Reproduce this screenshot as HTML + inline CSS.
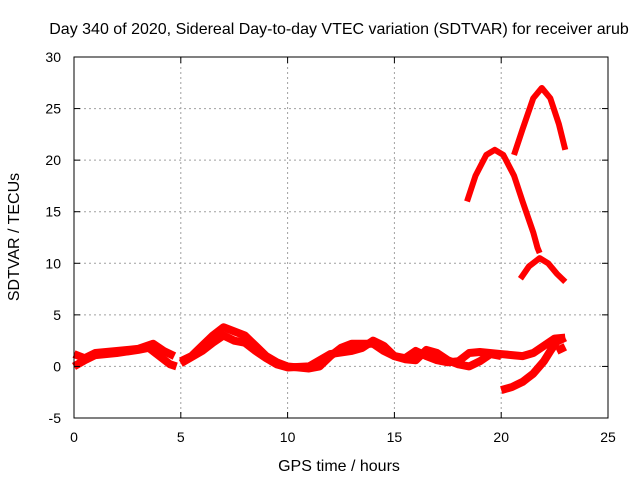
<!DOCTYPE html>
<html><head><meta charset="utf-8"><style>
body{margin:0;background:#fff}
svg text{font-family:"Liberation Sans",sans-serif;font-size:14px;fill:#000}
svg text.big{font-size:16px}
</style></head><body>
<svg id="chart" width="640" height="480">
<text class="big" x="339" y="34" text-anchor="middle">Day 340 of 2020, Sidereal Day-to-day VTEC variation (SDTVAR) for receiver arub</text>
<text class="big" x="339" y="471" text-anchor="middle">GPS time / hours</text>
<text class="big" transform="translate(19,237) rotate(-90)" text-anchor="middle">SDTVAR / TECUs</text>
<g id="grid"></g><g id="marks"></g><g id="axes"></g>
</svg>
<script>
const xTicks=[0,5,10,15,20,25];
const yTicks=[-5,0,5,10,15,20,25,30];
const s1=[[0,1.2],[0.5,0.8],[1,1.3],[2,1.5],[3,1.7],[3.7,2.2],[4.2,1.5],[4.7,1.0]];
const s2=[[0,0],[0.5,0.6],[1,1.1],[2,1.3],[3,1.6],[3.5,1.8],[4,1.0],[4.5,0.2],[4.8,0]];
const s3=[[5,0.5],[5.5,1.0],[6,2],[6.5,3],[7,3.8],[7.5,3.4],[8,3],[8.5,2],[9,1],[9.5,0.4],[10,0],[11,-0.2],[11.5,0],[12,1],[12.5,1.8],[13,2.2],[13.5,2.2],[14,2.2],[14.5,1.5],[15,1],[15.5,0.8],[16,1.5],[16.5,1.0],[17,0.6],[17.5,0.4],[18,0.5],[18.5,1.3],[19,1.4],[20,1.2],[20.5,1.1],[21,1.0],[21.5,1.3],[22,2.0],[22.5,2.7],[23,2.8]];
const s4=[[5,0.3],[6,1.5],[6.5,2.3],[7,3],[7.5,2.5],[8,2.3],[8.5,1.5],[9,0.8],[9.5,0.2],[10,-0.1],[11,0],[12,1.2],[13,1.5],[13.5,1.8],[14,2.5],[14.5,2],[15,1],[15.5,0.7],[16,0.6],[16.5,1.6],[17,1.3],[17.5,0.6],[18,0.2],[18.5,0],[19,0.5],[19.5,1.2],[20,1.0]];
const s5=[[20,-2.3],[20.5,-2],[21,-1.5],[21.5,-0.7],[22,0.5],[22.3,1.5],[22.6,2.4],[23,2.8]];
const s6=[[22.6,1.5],[23,1.9]];
const s7=[[18.4,16],[18.8,18.5],[19.3,20.5],[19.7,21],[20.1,20.5],[20.6,18.5],[21,16],[21.5,13],[21.7,11.5],[21.8,11]];
const s8=[[20.6,20.5],[21,23],[21.5,26],[21.9,27],[22.3,26],[22.7,23.5],[23,21]];
const s9=[[20.9,8.5],[21.3,9.7],[21.8,10.5],[22.2,10],[22.6,9],[23,8.2]];
const series=[s1,s2,s3,s4,s5,s6,s7,s8,s9];
const X0=74,X1=608,Y0=418,Y1=57;
const xs=v=>X0+(v-0)/25*(X1-X0);
const ys=v=>Y0-(v+5)/35*(Y0-Y1);
const NS="http://www.w3.org/2000/svg";
function mk(t,a,p){const e=document.createElementNS(NS,t);for(const k in a)e.setAttribute(k,a[k]);p.appendChild(e);return e;}
const grid=document.getElementById('grid'),axes=document.getElementById('axes'),marks=document.getElementById('marks');
xTicks.forEach(t=>{const x=xs(t);
 if(t>0&&t<25){const g=mk('line',{x1:x,x2:x,y1:Y1,y2:Y0,stroke:'#a0a0a0','stroke-dasharray':'2,3'},grid);
 
 }
 mk('line',{x1:x,x2:x,y1:Y0,y2:Y0-6,stroke:'#000'},axes);mk('line',{x1:x,x2:x,y1:Y1,y2:Y1+6,stroke:'#000'},axes);
 const tx=mk('text',{x:x,y:Y0+24,'text-anchor':'middle'},axes);tx.textContent=t;
 
 });
yTicks.forEach(t=>{const y=ys(t);
 if(t>-5&&t<30){const g=mk('line',{x1:X0,x2:X1,y1:y,y2:y,stroke:'#a0a0a0','stroke-dasharray':'2,3'},grid);
 
 }
 mk('line',{x1:X0,x2:X0+6,y1:y,y2:y,stroke:'#000'},axes);mk('line',{x1:X1,x2:X1-6,y1:y,y2:y,stroke:'#000'},axes);
 const tx=mk('text',{x:X0-13,y:y+5,'text-anchor':'end'},axes);tx.textContent=t;
 
 });
const b=mk('rect',{x:X0,y:Y1,width:X1-X0,height:Y0-Y1,fill:'none',stroke:'#000'},axes);


series.forEach((s,i)=>{
 const p=mk('polyline',{points:s.map(d=>xs(d[0])+','+ys(d[1])).join(' '),fill:'none',stroke:'#f00','stroke-width':i>5?6:8,'stroke-linejoin':'round'},marks);
 
 
});
</script>
</body></html>
